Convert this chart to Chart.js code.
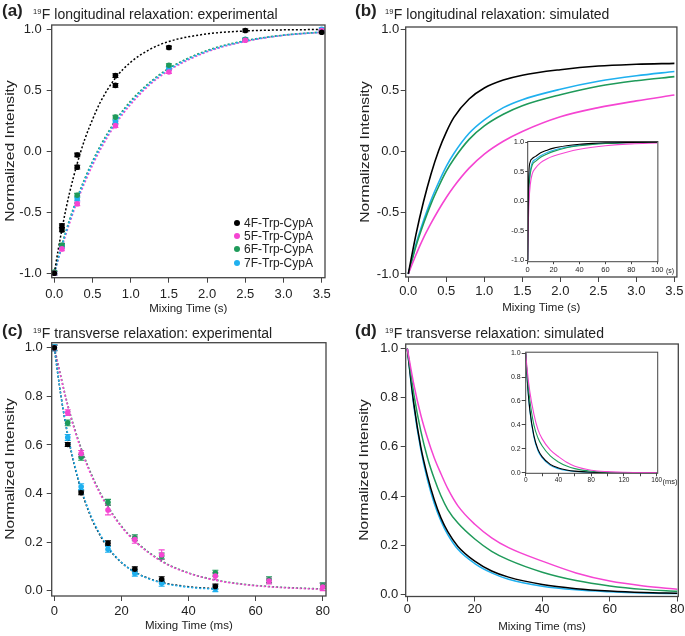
<!DOCTYPE html>
<html>
<head>
<meta charset="utf-8">
<script src="https://cdn.jsdelivr.net/npm/chart.js@4.4.1/dist/chart.umd.min.js"></script>
<style>
  body { margin: 0; background: #fff; font-family: "Liberation Sans", Arial, sans-serif; color: #222; }
  #fig { position: relative; width: 685px; height: 636px; overflow: hidden; }
  canvas { position: absolute; }
  .lab { position: absolute; font-weight: bold; font-size: 17px; line-height: 20px; }
  .ttl { position: absolute; font-size: 14px; line-height: 16px; white-space: nowrap; }
  .ttl span { font-size: 7.5px; position: relative; top: -5px; margin-right: 0.5px; }
  .ytl { position: absolute; font-size: 12.5px; line-height: 14px; white-space: nowrap;
         transform: translate(-50%, -50%) rotate(-90deg) scale(1.25, 1); }
  .leg { position: absolute; left: 244px; font-size: 12px; line-height: 14px; height: 14px; white-space: nowrap; }
  .leg i { position: absolute; left: -10.5px; top: 4px; width: 6px; height: 6px; border-radius: 50%; }
  .unit { position: absolute; line-height: 9px; }
</style>
</head>
<body>
<div id="fig">
  <canvas id="chA"></canvas>
  <canvas id="chB"></canvas>
  <canvas id="chBin"></canvas>
  <canvas id="chC"></canvas>
  <canvas id="chD"></canvas>
  <canvas id="chDin"></canvas>

  <div class="lab" style="left:2px;top:1px">(a)</div>
  <div class="ttl" style="left:33px;top:6px"><span>19</span>F longitudinal relaxation: experimental</div>
  <div class="lab" style="left:355px;top:1px">(b)</div>
  <div class="ttl" style="left:385px;top:6px"><span>19</span>F longitudinal relaxation: simulated</div>
  <div class="lab" style="left:2px;top:321px">(c)</div>
  <div class="ttl" style="left:33px;top:325px"><span>19</span>F transverse relaxation: experimental</div>
  <div class="lab" style="left:355px;top:321px">(d)</div>
  <div class="ttl" style="left:385px;top:325px"><span>19</span>F transverse relaxation: simulated</div>

  <div class="ytl" style="left:10px;top:151px">Normalized Intensity</div>
  <div class="ytl" style="left:364.5px;top:152px">Normalized Intensity</div>
  <div class="ytl" style="left:10px;top:469px">Normalized Intensity</div>
  <div class="ytl" style="left:363.5px;top:470px">Normalized Intensity</div>

  <div id="legend"></div>
  <div class="unit" style="left:666px;top:266px;font-size:7px">(s)</div>
  <div class="unit" style="left:662.5px;top:477px;font-size:7.5px">(ms)</div>
</div>

<script>
// series
const seriesNames = ["4F-Trp-CypA", "5F-Trp-CypA", "6F-Trp-CypA", "7F-Trp-CypA"];
const seriesColors = ["#000000", "#f545d2", "#1f9a5a", "#1fb0ef"];

// (a) longitudinal, experimental points (s)
const t1Time4F = [0, 0.1, 0.1, 0.3, 0.3, 0.8, 0.8, 1.5, 2.5, 3.5];
const t1Int4F = [-1.0, -0.61, -0.645, -0.03, -0.13, 0.62, 0.54, 0.85, 0.99, 0.975];
const t1Err4F = [0.015, 0.015, 0.015, 0.015, 0.015, 0.015, 0.015, 0.012, 0.012, 0.012];
const t1Time = [0, 0.1, 0.3, 0.8, 1.5, 2.5, 3.5];
const t1Int5F = [-1.0, -0.80, -0.43, 0.21, 0.65, 0.91, 0.99];
const t1Int6F = [-0.99, -0.77, -0.36, 0.28, 0.705, 0.915, 0.985];
const t1Int7F = [-1.0, -0.78, -0.39, 0.24, 0.68, 0.918, 1.0];
const t1Err = [0.012, 0.015, 0.015, 0.015, 0.012, 0.012, 0.012];

// (a) fitted curves
const t1FitTime = [0, 0.05, 0.1, 0.15, 0.2, 0.3, 0.4, 0.5, 0.6, 0.8, 1.0, 1.25, 1.5, 2.0, 2.5, 3.0, 3.5];
const t1Fit4F = [-1.0, -0.81, -0.64, -0.48, -0.34, -0.10, 0.10, 0.26, 0.40, 0.60, 0.73, 0.835, 0.90, 0.962, 0.986, 0.995, 0.998];
const t1Fit5F = [-1.0, -0.89, -0.785, -0.685, -0.59, -0.41, -0.255, -0.115, 0.01, 0.22, 0.385, 0.545, 0.662, 0.815, 0.90, 0.95, 0.975];
const t1Fit6F = [-1.0, -0.875, -0.765, -0.66, -0.56, -0.38, -0.222, -0.082, 0.042, 0.25, 0.412, 0.565, 0.68, 0.826, 0.906, 0.952, 0.977];
const t1Fit7F = [-1.0, -0.883, -0.773, -0.67, -0.572, -0.393, -0.235, -0.095, 0.029, 0.237, 0.40, 0.556, 0.672, 0.82, 0.903, 0.951, 0.976];

// (b) longitudinal, simulated
const t1SimTime = [0, 0.1, 0.2, 0.3, 0.4, 0.5, 0.6, 0.8, 1.0, 1.25, 1.5, 2.0, 2.5, 3.0, 3.5];
const t1Sim4F = [-1.0, -0.68, -0.41, -0.18, 0.01, 0.16, 0.28, 0.43, 0.52, 0.585, 0.625, 0.67, 0.70, 0.714, 0.722];
const t1Sim5F = [-1.0, -0.845, -0.705, -0.585, -0.475, -0.375, -0.285, -0.135, -0.02, 0.085, 0.165, 0.285, 0.36, 0.415, 0.463];
const t1Sim6F = [-1.0, -0.775, -0.59, -0.425, -0.285, -0.16, -0.06, 0.10, 0.21, 0.305, 0.375, 0.465, 0.535, 0.58, 0.613];
const t1Sim7F = [-1.0, -0.76, -0.565, -0.395, -0.25, -0.12, -0.015, 0.15, 0.26, 0.36, 0.425, 0.51, 0.575, 0.62, 0.655];

// (b) inset, long time range
const t1LongTime = [0, 0.5, 1, 2, 3.5, 6, 10, 15, 20, 30, 40, 50, 60, 80, 100];
const t1Long4F = [-1.0, 0.16, 0.52, 0.67, 0.722, 0.76, 0.82, 0.865, 0.90, 0.94, 0.965, 0.98, 0.99, 0.997, 1.0];
const t1Long5F = [-1.0, -0.375, -0.02, 0.285, 0.463, 0.56, 0.655, 0.72, 0.765, 0.83, 0.88, 0.915, 0.94, 0.972, 0.988];
const t1Long6F = [-1.0, -0.16, 0.21, 0.465, 0.613, 0.675, 0.745, 0.80, 0.845, 0.905, 0.94, 0.963, 0.977, 0.992, 0.998];
const t1Long7F = [-1.0, -0.12, 0.26, 0.51, 0.655, 0.71, 0.77, 0.825, 0.865, 0.915, 0.95, 0.97, 0.982, 0.995, 1.0];

// (c) transverse, experimental points (ms)
const t2TimeFast = [0, 4, 8, 16, 24, 32, 48];
const t2Int4F = [1.0, 0.602, 0.403, 0.195, 0.088, 0.047, 0.017];
const t2Int7F = [1.0, 0.631, 0.428, 0.17, 0.072, 0.03, 0.008];
const t2Err4F = [0.01, 0.008, 0.008, 0.01, 0.01, 0.01, 0.01];
const t2Err7F = [0.012, 0.012, 0.012, 0.012, 0.012, 0.012, 0.012];
const t2TimeSlow = [0, 4, 8, 16, 24, 32, 48, 64, 80];
const t2Int5F = [1.0, 0.733, 0.565, 0.332, 0.21, 0.148, 0.06, 0.04, 0.015];
const t2Int6F = [1.0, 0.691, 0.549, 0.364, 0.218, 0.143, 0.072, 0.045, 0.02];
const t2Err5F = [0.012, 0.012, 0.012, 0.02, 0.015, 0.02, 0.015, 0.012, 0.015];
const t2Err6F = [0.012, 0.012, 0.012, 0.012, 0.012, 0.012, 0.012, 0.012, 0.012];

// (c) fitted curves
const t2FitTimeFast = [0, 2, 4, 6, 8, 10, 12, 16, 20, 24, 28, 32, 40, 48];
const t2Fit4F = [1.0, 0.80, 0.64, 0.515, 0.415, 0.335, 0.27, 0.177, 0.116, 0.077, 0.051, 0.034, 0.016, 0.008];
const t2Fit7F = [1.0, 0.80, 0.645, 0.52, 0.42, 0.34, 0.275, 0.18, 0.117, 0.076, 0.05, 0.032, 0.014, 0.006];
const t2FitTimeSlow = [0, 4, 8, 12, 16, 20, 24, 32, 40, 48, 56, 64, 72, 80];
const t2Fit5F = [1.0, 0.76, 0.58, 0.445, 0.342, 0.263, 0.203, 0.12, 0.072, 0.043, 0.026, 0.016, 0.01, 0.006];
const t2Fit6F = [1.0, 0.765, 0.586, 0.45, 0.346, 0.266, 0.206, 0.122, 0.073, 0.044, 0.027, 0.017, 0.011, 0.007];

// (d) transverse, simulated
const t2SimTime = [0, 2, 4, 6, 8, 10, 12, 15, 20, 25, 30, 40, 50, 60, 70, 80];
const t2Sim4F = [1.0, 0.77, 0.60, 0.48, 0.385, 0.31, 0.255, 0.195, 0.135, 0.095, 0.07, 0.04, 0.023, 0.013, 0.007, 0.004];
const t2Sim5F = [1.0, 0.85, 0.73, 0.635, 0.555, 0.49, 0.43, 0.36, 0.285, 0.23, 0.19, 0.135, 0.087, 0.054, 0.034, 0.021];
const t2Sim6F = [1.0, 0.81, 0.665, 0.555, 0.47, 0.40, 0.345, 0.29, 0.225, 0.175, 0.14, 0.09, 0.056, 0.034, 0.02, 0.012];
const t2Sim7F = [1.0, 0.76, 0.59, 0.465, 0.37, 0.298, 0.243, 0.183, 0.125, 0.087, 0.061, 0.033, 0.018, 0.01, 0.005, 0.003];

// (d) inset, long time range
const t2LongTime = [0, 2, 5, 10, 15, 20, 30, 40, 50, 60, 80, 100, 120, 140, 160];
const t2Long4F = [1.0, 0.77, 0.53, 0.31, 0.195, 0.135, 0.07, 0.04, 0.023, 0.013, 0.004, 0.001, 0, 0, 0];
const t2Long5F = [1.0, 0.85, 0.68, 0.49, 0.36, 0.285, 0.19, 0.135, 0.087, 0.054, 0.021, 0.009, 0.004, 0.002, 0.001];
const t2Long6F = [1.0, 0.81, 0.61, 0.40, 0.29, 0.225, 0.14, 0.09, 0.056, 0.034, 0.012, 0.004, 0.002, 0.001, 0];
const t2Long7F = [1.0, 0.76, 0.52, 0.298, 0.183, 0.125, 0.061, 0.033, 0.018, 0.01, 0.003, 0.001, 0, 0, 0];

// tick labels
const xTicksT1 = [0, 0.5, 1, 1.5, 2, 2.5, 3, 3.5];
const yTicksT1 = [-1, -0.5, 0, 0.5, 1];
const xTicksT2 = [0, 20, 40, 60, 80];
const yTicksT2 = [0, 0.2, 0.4, 0.6, 0.8, 1];
const xTicksT1Long = [0, 20, 40, 60, 80, 100];
const xTicksT2Long = [0, 20, 40, 60, 80, 100, 120, 140, 160];

Chart.defaults.font.family = '"Liberation Sans", Arial, sans-serif';
Chart.defaults.color = "#222";
const ink = "#444";

const pts = (xs, ys) => xs.map((x, i) => ({ x: x, y: ys[i] }));
const one = (v) => v.toFixed(1);

function markers(xs, ys, errs, k) {
  return {
    data: pts(xs, ys), errors: errs, order: 0, clip: 5,
    pointRadius: 2.8, pointBackgroundColor: seriesColors[k], pointBorderWidth: 0,
    backgroundColor: seriesColors[k], borderColor: seriesColors[k]
  };
}
function curve(xs, ys, k, width, dotted) {
  return {
    data: pts(xs, ys), showLine: true, pointRadius: 0, order: 1,
    borderColor: seriesColors[k], borderWidth: width,
    borderDash: dotted ? [2, 2] : [], cubicInterpolationMode: "monotone"
  };
}

// box around the plot area
const frame = {
  id: "frame",
  afterDraw(chart) {
    const { ctx, chartArea: a } = chart;
    ctx.save();
    ctx.strokeStyle = ink;
    ctx.lineWidth = chart.options.frameWidth || 1.3;
    ctx.strokeRect(a.left, a.top, a.right - a.left, a.bottom - a.top);
    ctx.restore();
  }
};

const errorBars = {
  id: "errorBars",
  beforeDatasetsDraw(chart) {
    const { ctx, scales: { x, y } } = chart;
    chart.data.datasets.forEach((ds) => {
      if (!ds.errors) return;
      ctx.save();
      ctx.strokeStyle = ds.borderColor;
      ctx.lineWidth = 1.1;
      ds.data.forEach((p, i) => {
        const e = ds.errors[i];
        const px = x.getPixelForValue(p.x);
        const y1 = y.getPixelForValue(p.y - e);
        const y2 = y.getPixelForValue(p.y + e);
        ctx.beginPath();
        ctx.moveTo(px, y1); ctx.lineTo(px, y2);
        ctx.moveTo(px - 3, y1); ctx.lineTo(px + 3, y1);
        ctx.moveTo(px - 3, y2); ctx.lineTo(px + 3, y2);
        ctx.stroke();
      });
      ctx.restore();
    });
  }
};

function axis(pos, s, size) {
  return {
    type: "linear", position: pos, min: s.min, max: s.max,
    afterBuildTicks: (sc) => { sc.ticks = s.ticks.map((v) => ({ value: v })); },
    afterFit: (sc) => { if (pos === "bottom") sc.height = size; else sc.width = size; },
    border: { display: false },
    grid: { drawOnChartArea: false, drawTicks: true, tickLength: s.tick || 5, color: ink, lineWidth: 1 },
    ticks: { autoSkip: false, maxRotation: 0, padding: s.pad, color: "#222", font: { size: s.font || 13 }, callback: s.fmt },
    title: s.title
      ? { display: true, text: s.title, color: "#222", font: { size: 11.5 }, padding: s.titlePad }
      : { display: false }
  };
}

function panel(id, box, area, datasets, xs, ys, frameWidth) {
  const cv = document.getElementById(id);
  cv.width = box.w;
  cv.height = box.h;
  cv.style.left = box.x + "px";
  cv.style.top = box.y + "px";
  return new Chart(cv, {
    type: "scatter",
    data: { datasets: datasets },
    options: {
      responsive: false, animation: false, devicePixelRatio: 1, frameWidth: frameWidth,
      layout: { padding: { left: 0, bottom: 0, top: area.t - box.y, right: box.x + box.w - area.r } },
      plugins: { legend: { display: false }, tooltip: { enabled: false } },
      scales: {
        x: axis("bottom", xs, box.y + box.h - area.b),
        y: axis("left", ys, area.l - box.x)
      }
    },
    plugins: [errorBars, frame]
  });
}

// (a)
panel("chA", { x: 0, y: 0, w: 340, h: 318 }, { l: 51.7, r: 325, t: 25, b: 277.7 }, [
  markers(t1Time4F, t1Int4F, t1Err4F, 0),
  markers(t1Time, t1Int5F, t1Err, 1),
  markers(t1Time, t1Int6F, t1Err, 2),
  markers(t1Time, t1Int7F, t1Err, 3),
  curve(t1FitTime, t1Fit4F, 0, 1.5, true),
  curve(t1FitTime, t1Fit7F, 3, 1.6, true),
  curve(t1FitTime, t1Fit6F, 2, 1.6, true),
  curve(t1FitTime, t1Fit5F, 1, 1.6, true)
], { min: -0.034, max: 3.543, ticks: xTicksT1, fmt: one, pad: 4, title: "Mixing Time (s)", titlePad: { bottom: 2.1 } },
   { min: -1.036, max: 1.035, ticks: yTicksT1, fmt: one, pad: 5 });

// (b)
panel("chB", { x: 340, y: 0, w: 345, h: 318 }, { l: 405.7, r: 677.5, t: 27, b: 277 }, [
  curve(t1SimTime, t1Sim4F, 0, 1.6, false),
  curve(t1SimTime, t1Sim5F, 1, 1.6, false),
  curve(t1SimTime, t1Sim6F, 2, 1.6, false),
  curve(t1SimTime, t1Sim7F, 3, 1.6, false)
], { min: -0.034, max: 3.533, ticks: xTicksT1, fmt: one, pad: 1.5, title: "Mixing Time (s)", titlePad: { bottom: 2.8 } },
   { min: -1.025, max: 1.019, ticks: yTicksT1, fmt: one, pad: 1.5 });

// (b) inset
panel("chBin", { x: 503, y: 136, w: 162, h: 142 }, { l: 527.7, r: 659.3, t: 141, b: 261.7 }, [
  curve(t1LongTime, t1Long4F, 0, 1.1, false),
  curve(t1LongTime, t1Long5F, 1, 1.1, false),
  curve(t1LongTime, t1Long6F, 2, 1.1, false),
  curve(t1LongTime, t1Long7F, 3, 1.1, false)
], { min: 0, max: 100.5, ticks: xTicksT1Long, fmt: (v) => String(v), pad: 1.5, tick: 2.5, font: 7.5 },
   { min: -1.024, max: 1.012, ticks: yTicksT1, fmt: one, pad: 1, tick: 2.5, font: 7.5 }, 1);

// (c)
panel("chC", { x: 0, y: 318, w: 340, h: 318 }, { l: 51.7, r: 326, t: 342.7, b: 596 }, [
  markers(t2TimeFast, t2Int4F, t2Err4F, 0),
  markers(t2TimeSlow, t2Int5F, t2Err5F, 1),
  markers(t2TimeSlow, t2Int6F, t2Err6F, 2),
  markers(t2TimeFast, t2Int7F, t2Err7F, 3),
  curve(t2FitTimeFast, t2Fit7F, 3, 1.6, true),
  curve(t2FitTimeFast, t2Fit4F, 0, 1.5, true),
  curve(t2FitTimeSlow, t2Fit5F, 1, 1.6, true),
  curve(t2FitTimeSlow, t2Fit6F, 2, 1.6, true)
], { min: -0.78, max: 80.98, ticks: xTicksT2, fmt: (v) => String(v), pad: 3, title: "Mixing Time (ms)", titlePad: { bottom: 3.4 } },
   { min: -0.022, max: 1.021, ticks: yTicksT2, fmt: one, pad: 4 });

// (d)
panel("chD", { x: 340, y: 318, w: 345, h: 318 }, { l: 405.7, r: 678.3, t: 344, b: 596.5 }, [
  curve(t2SimTime, t2Sim5F, 1, 1.5, false),
  curve(t2SimTime, t2Sim6F, 2, 1.5, false),
  curve(t2SimTime, t2Sim4F, 0, 1.5, false),
  curve(t2SimTime, t2Sim7F, 3, 1.5, false)
], { min: -0.47, max: 80.3, ticks: xTicksT2, fmt: (v) => String(v), pad: 0, title: "Mixing Time (ms)", titlePad: { bottom: 1.8 } },
   { min: -0.009, max: 1.019, ticks: yTicksT2, fmt: one, pad: 2.5 });

// (d) inset
panel("chDin", { x: 501, y: 347, w: 162, h: 140 }, { l: 525.7, r: 657.7, t: 351.7, b: 473.3 }, [
  curve(t2LongTime, t2Long5F, 1, 1.1, false),
  curve(t2LongTime, t2Long6F, 2, 1.1, false),
  curve(t2LongTime, t2Long4F, 0, 1.1, false),
  curve(t2LongTime, t2Long7F, 3, 1.1, false)
], { min: 0, max: 161.2, ticks: xTicksT2Long, fmt: (v) => (v % 40 === 0 ? String(v) : ""), pad: 0.5, tick: 3, font: 6.5 },
   { min: -0.005, max: 1.008, ticks: yTicksT2, fmt: one, pad: 1, tick: 4, font: 7 }, 1);

// legend for (a)
const legendRows = [222.7, 236, 249.3, 262.7];
document.getElementById("legend").innerHTML = seriesNames
  .map((name, k) => `<div class="leg" style="top:${legendRows[k] - 7}px"><i style="background:${seriesColors[k]}"></i>${name}</div>`)
  .join("");
</script>
</body>
</html>
